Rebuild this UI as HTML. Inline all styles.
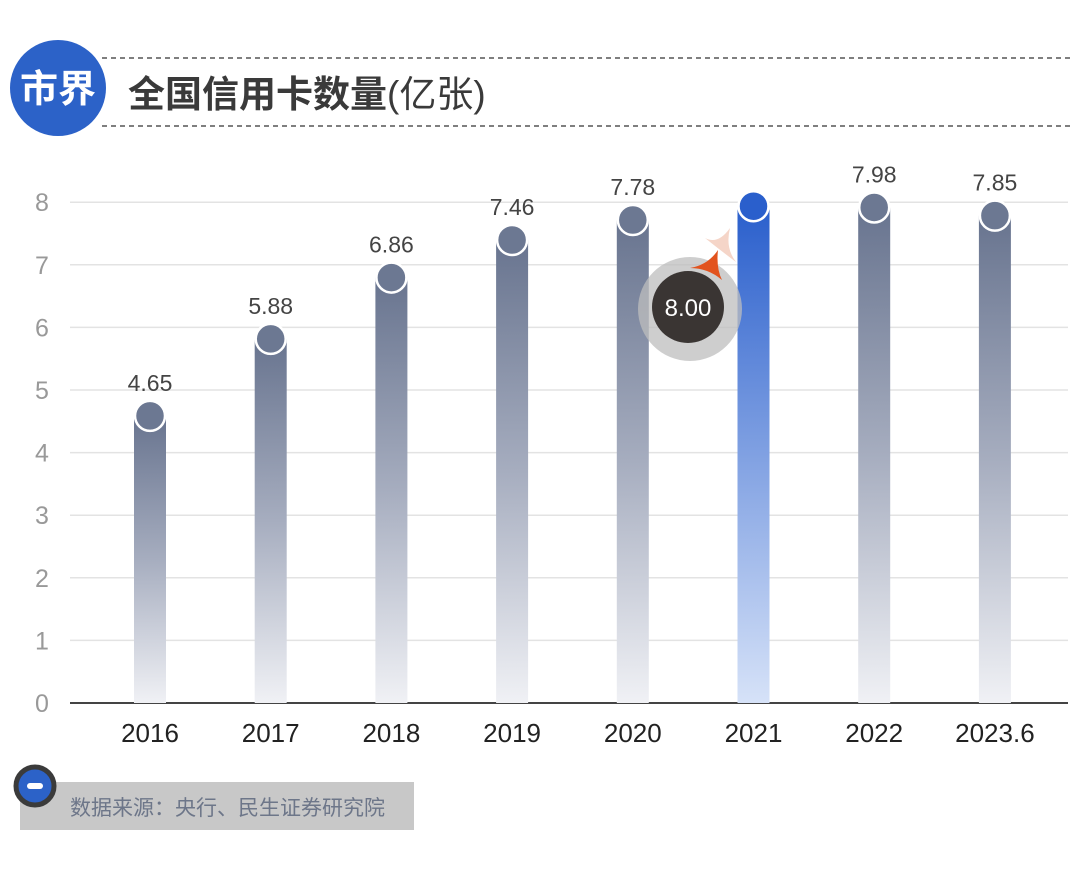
<!DOCTYPE html>
<html><head><meta charset="utf-8"><style>
body{margin:0;background:#fff;width:1080px;height:865px;overflow:hidden;font-family:"Liberation Sans","Noto Sans CJK SC",sans-serif}
</style></head><body>
<svg id="c" width="1080" height="865" xmlns="http://www.w3.org/2000/svg">
<defs>
<linearGradient id="gg" x1="0" y1="0" x2="0" y2="1"><stop offset="0" stop-color="#68748f"/><stop offset="0.5" stop-color="#a6adbf"/><stop offset="1" stop-color="#f0f1f5"/></linearGradient>
<linearGradient id="gb" x1="0" y1="0" x2="0" y2="1"><stop offset="0" stop-color="#2a5fcc"/><stop offset="1" stop-color="#d6e2f8"/></linearGradient>
</defs>
<line x1="102" y1="58" x2="1070" y2="58" stroke="#555" stroke-width="1.5" stroke-dasharray="5,4"/>
<line x1="102" y1="126" x2="1070" y2="126" stroke="#555" stroke-width="1.5" stroke-dasharray="5,4"/>
<circle cx="58" cy="88" r="48" fill="#2c62c8"/>
<text x="58" y="102" text-anchor="middle" font-size="38" font-weight="bold" fill="#fff">市界</text>
<text x="128" y="107" font-size="37" font-weight="bold" fill="#3a3a3a">全国信用卡数量<tspan font-weight="normal">(亿张)</tspan></text>
<g id="grid"></g><g id="bars"></g>
<g>
<circle cx="690" cy="309" r="52" fill="#bdbdbd" opacity="0.75"/>
<circle cx="688" cy="307" r="36" fill="#3a3533"/>
<text x="688" y="316" text-anchor="middle" font-size="24" fill="#fff">8.00</text>
<path d="M705 238 Q718 245 730 228 Q725 248 736 262 Q720 250 705 238Z" fill="#f5d5c8"/>
<path d="M690 268 Q708 265 718 250 Q716 268 722 280 Q708 268 690 268Z" fill="#e2531e"/>
</g>
<rect x="20" y="782" width="394" height="48" fill="#c8c8c8"/>
<text x="70" y="815" font-size="21" fill="#6d7689">数据来源：央行、民生证券研究院</text>
<circle cx="35" cy="786" r="19" fill="#2c62c8" stroke="#3b3b3b" stroke-width="5"/>
<rect x="27" y="783" width="16" height="6" rx="3" fill="#fff"/>
</svg>
<script>
const categories=["2016","2017","2018","2019","2020","2021","2022","2023.6"];
const values=[4.65,5.88,6.86,7.46,7.78,8.00,7.98,7.85];
const labels=["4.65","5.88","6.86","7.46","7.78","","7.98","7.85"];
const yTicks=[0,1,2,3,4,5,6,7,8];
const highlight=5;
const NS="http://www.w3.org/2000/svg";
const y=v=>703-v*62.6;
const x=i=>150+i*120.7;
function mk(t,a,p){const e=document.createElementNS(NS,t);for(const k in a)e.setAttribute(k,a[k]);p.appendChild(e);return e;}
const g=document.getElementById('grid'),b=document.getElementById('bars');
yTicks.forEach(t=>{
 if(t>0){const l=mk('line',{x1:70,x2:1068,y1:y(t),y2:y(t),stroke:'#e3e3e3','stroke-width':1.5},g);
 
 }
 const tx=mk('text',{x:42,y:y(t)+9,'text-anchor':'middle','font-size':25,fill:'#999'},g);tx.textContent=t;
 
 
});
const ax=mk('line',{x1:70,x2:1068,y1:703,y2:703,stroke:'#444','stroke-width':2},g);


categories.forEach((c,i)=>{
 const hi=i===highlight,top=y(values[i])+4;
 const r=mk('rect',{x:x(i)-16,y:top,width:32,height:703-top,fill:hi?'url(#gb)':'url(#gg)'},b);
 
 
 const ci=mk('circle',{cx:x(i),cy:top,r:15,fill:hi?'#2a5fcc':'#6c7892',stroke:'#fff','stroke-width':2.5},b);
 
 
 if(labels[i]){const t=mk('text',{x:x(i),y:top-25,'text-anchor':'middle','font-size':23,fill:'#444'},b);t.textContent=labels[i];
 
 }
 const xl=mk('text',{x:x(i),y:742,'text-anchor':'middle','font-size':26,fill:'#222'},b);xl.textContent=c;
 
 
});
</script>
</body></html>
